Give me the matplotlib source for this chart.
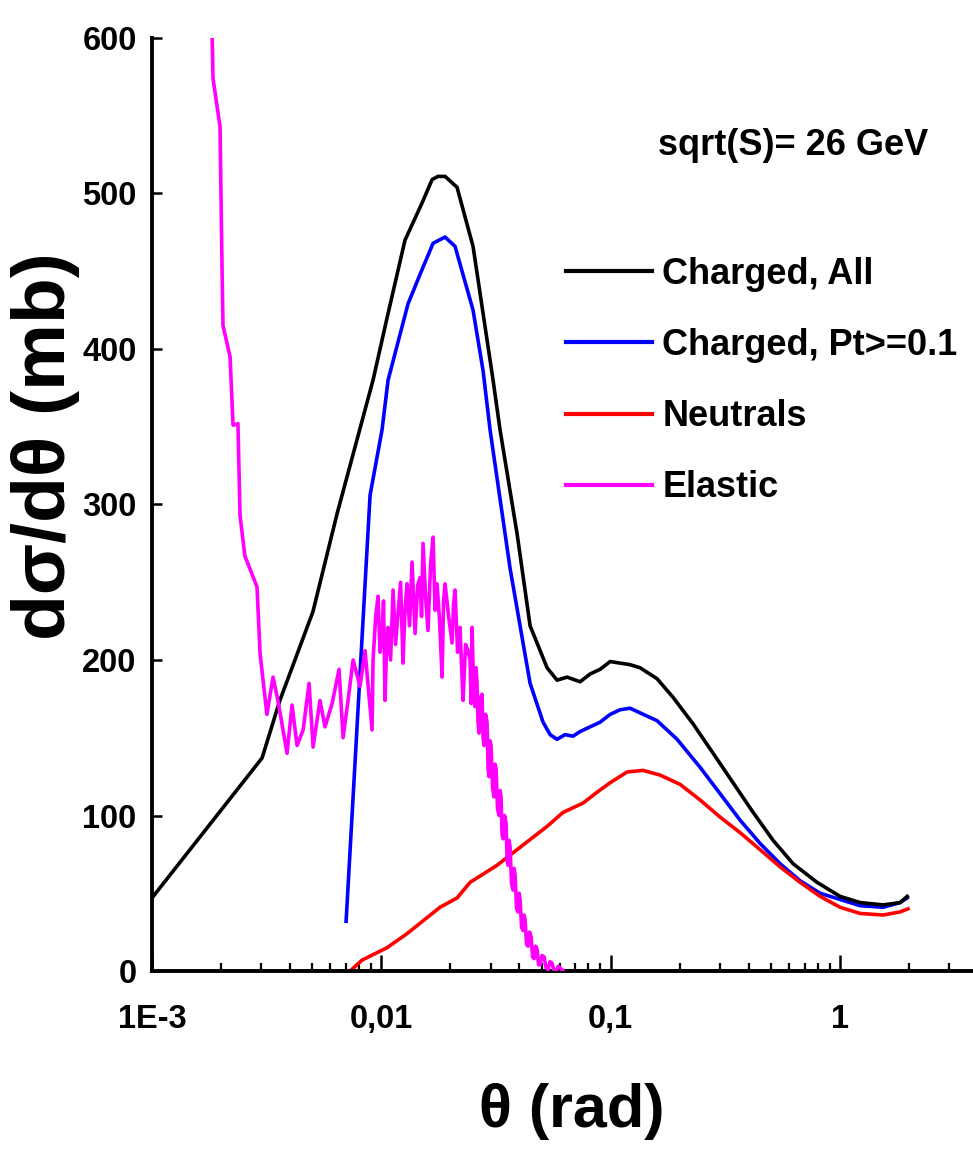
import numpy as np
import matplotlib
matplotlib.use('Agg')
import matplotlib.pyplot as plt
from matplotlib.ticker import FixedLocator, LogLocator, NullFormatter

plt.rcParams['font.family'] = ['Liberation Sans', 'DejaVu Sans']
plt.rcParams['font.weight'] = 'bold'

# Charged, All
ch_all_theta = [0.001, 0.00302, 0.00361, 0.00503, 0.00641, 0.00768, 0.00920, 0.01059,
                0.01268, 0.01506, 0.01665, 0.01767, 0.01896, 0.02138, 0.02511, 0.03070,
                0.03293, 0.03909, 0.04452, 0.0528, 0.05838, 0.06454, 0.07357, 0.0813,
                0.0899, 0.0994, 0.1099, 0.1215, 0.1343, 0.1592, 0.1870, 0.2285, 0.2797,
                0.3419, 0.4180, 0.5108, 0.6240, 0.7940, 1.0, 1.224, 1.542, 1.828, 1.963]
ch_all_val = [47, 137, 174, 231, 294, 337, 380, 420,
              470, 494, 509, 511, 511, 504, 466, 380,
              348, 281, 222, 195, 187, 189, 186, 191,
              194, 199, 198, 197, 195, 188, 176, 159, 140,
              121, 102, 84, 69, 57, 48, 44, 42.5, 44, 48]

# Charged, Pt>=0.1
ch_pt_theta = [0.00702, 0.00893, 0.01007, 0.01070, 0.01307, 0.01475, 0.01681, 0.01896,
               0.02096, 0.02511, 0.02777, 0.02979, 0.03641, 0.04452, 0.05072, 0.05442,
               0.05838, 0.06326, 0.06855, 0.07357, 0.0813, 0.0899, 0.0994, 0.1099, 0.1215,
               0.1343, 0.1592, 0.1948, 0.2454, 0.3000, 0.3667, 0.4483, 0.5479, 0.6697,
               0.8185, 1.0, 1.224, 1.542, 1.828, 1.963]
ch_pt_val = [32, 306, 348, 380, 429, 448, 468, 472,
             466, 425, 386, 348, 259, 185, 160, 152,
             149, 152, 151, 154, 157, 160, 165, 168, 169,
             166, 161, 149, 131, 114, 97, 82, 69, 58,
             50, 46, 42, 41, 44, 47]

# Neutrals
neu_theta = [0.00731, 0.00824, 0.01059, 0.01294, 0.01803, 0.0214, 0.02437, 0.03196, 0.0375,
             0.04775, 0.0528, 0.062, 0.07579, 0.08723, 0.0993, 0.1179, 0.1385, 0.1641,
             0.2008, 0.2453, 0.2998, 0.3664, 0.4483, 0.5479, 0.6697, 0.8185, 1.0, 1.224,
             1.542, 1.828, 1.98]
neu_val = [0, 7, 15, 24, 41, 47, 57, 68, 76,
           88, 93, 102, 108, 115, 121, 128, 129, 126,
           120, 110, 99, 89, 78, 67, 57, 48, 41, 37,
           36, 38, 40]

# Elastic
el_theta = [0.00183, 0.001845, 0.00198, 0.00202, 0.00204, 0.00219, 0.002256, 0.00237,
            0.00242, 0.00254, 0.00287, 0.00296, 0.00317, 0.00337, 0.00354, 0.00388,
            0.00408, 0.00429, 0.00456, 0.00484, 0.00504, 0.00540, 0.00568, 0.00610,
            0.00654, 0.00681, 0.00716, 0.00753, 0.00807, 0.00849, 0.00911,
            0.00920, 0.00945, 0.00967, 0.00987, 0.01007, 0.01022, 0.01038, 0.01055,
            0.01070, 0.01097, 0.01125, 0.01153, 0.01183, 0.01213, 0.01243, 0.01268,
            0.01294, 0.01327, 0.01361, 0.01382, 0.01403, 0.01440, 0.01475, 0.01497,
            0.01520, 0.01560, 0.01598, 0.01640, 0.01681, 0.01715, 0.01750, 0.01795,
            0.01840, 0.01868, 0.01896, 0.01965, 0.02034, 0.02065, 0.02096, 0.02150,
            0.02204, 0.02237, 0.02271, 0.02330, 0.02388,
            0.02437, 0.02462, 0.02487, 0.02525, 0.02563, 0.02588, 0.02614, 0.02640,
            0.02667, 0.02708, 0.02749, 0.02777, 0.02805, 0.02848, 0.02891, 0.02920,
            0.02949, 0.02979, 0.03009, 0.03055, 0.03100, 0.03132, 0.03164, 0.03212,
            0.03261, 0.03294, 0.03327, 0.03360, 0.03394, 0.03446, 0.03498, 0.03533,
            0.03569, 0.03605, 0.03641, 0.03697, 0.03753, 0.03791, 0.03829, 0.03888,
            0.03947, 0.03987, 0.04027, 0.04088, 0.04150, 0.04192, 0.04234, 0.04299,
            0.04364, 0.04431, 0.04498, 0.04566, 0.04635, 0.04705, 0.04775, 0.04848,
            0.04921, 0.05020, 0.05123, 0.05228, 0.05333, 0.05440, 0.05552, 0.05665,
            0.05780, 0.05900, 0.06017, 0.06200]
el_val = [600, 574, 543, 452, 415, 395, 351, 352,
          293, 267, 247, 204, 165, 189, 174, 140,
          171, 145, 155, 185, 144, 174, 157, 172,
          194, 150, 174, 200, 183, 206, 155,
          200, 228, 241, 205, 215, 238, 174, 212,
          221, 200, 245, 210, 230, 250, 198, 232,
          249, 222, 263, 240, 217, 248, 253, 228,
          275, 240, 219, 262, 279, 232, 249, 225,
          189, 238, 249, 228, 211, 236, 245, 205,
          221, 196, 174, 210, 206,
          200, 172, 221, 180, 170, 195, 185, 160,
          153, 176, 178, 150, 145, 165, 160, 130,
          125, 148, 145, 118, 112, 133, 130, 104,
          100, 116, 112, 88, 85, 100, 95, 72,
          68, 84, 80, 56, 52, 66, 62, 40,
          38, 50, 46, 28, 26, 36, 33, 17,
          16, 25, 22, 9, 8, 16, 14, 4,
          4, 10, 9, 2, 1, 6, 5, 0,
          0, 3, 2, 0]

labels = ['Charged, All', 'Charged, Pt>=0.1', 'Neutrals', 'Elastic']
x_ticks = [1e-3, 1e-2, 1e-1, 1]
x_tick_labels = ['1E-3', '0,01', '0,1', '1']
y_ticks = [0, 100, 200, 300, 400, 500, 600]

fig = plt.figure(figsize=(9.73, 11.57), dpi=100)
ax = fig.add_axes([152/973, 1-971/1157, 1-152/973, (971-38)/1157])

lw = 2.6
l_blue, = ax.plot(ch_pt_theta, ch_pt_val, color='#0000ff', lw=lw, zorder=2)
l_red, = ax.plot(neu_theta, neu_val, color='#ff0000', lw=lw, zorder=2.5)
l_black, = ax.plot(ch_all_theta, ch_all_val, color='black', lw=lw, zorder=3)
l_mag, = ax.plot(el_theta, el_val, color='#ff00ff', lw=lw, zorder=4)

ax.set_xscale('log')
ax.set_xlim(1e-3, 3.8)
ax.set_ylim(0, 600)

for s in ['top', 'right']:
    ax.spines[s].set_visible(False)
for s in ['left', 'bottom']:
    ax.spines[s].set_linewidth(2.8)

ax.xaxis.set_major_locator(FixedLocator(x_ticks))
ax.set_xticklabels(x_tick_labels)
ax.xaxis.set_minor_locator(LogLocator(base=10, subs=np.arange(2, 10)))
ax.xaxis.set_minor_formatter(NullFormatter())
ax.set_yticks(y_ticks)

ax.tick_params(axis='x', which='major', direction='in', length=11.5, width=1.8, pad=24, labelsize=23.5)
ax.tick_params(axis='x', which='minor', direction='in', length=6, width=1.6)
ax.tick_params(axis='y', which='major', direction='in', length=7, width=1.8, pad=11, labelsize=23.5)

leg = ax.legend([l_black, l_blue, l_red, l_mag], labels, loc='upper left',
                bbox_to_anchor=(0.504, 0.7653), frameon=False, fontsize=26,
                handlelength=2.39, handletextpad=0.28, labelspacing=1.0, borderpad=0,
                borderaxespad=0)
for h in leg.get_lines():
    h.set_linewidth(3.0)

ax.text(0.616, 0.8746, 'sqrt(S)= 26 GeV', transform=ax.transAxes, fontsize=26,
        ha='left', va='baseline')

fig.text(46/973, 1-446/1157, 'd\u03c3/d\u03b8 (mb)', rotation=90, ha='center', va='center',
         fontsize=54)
fig.text(572/973, 1-1112/1157, '\u03b8 (rad)', ha='center', va='center', fontsize=44)

fig.savefig('out.png', dpi=100)
